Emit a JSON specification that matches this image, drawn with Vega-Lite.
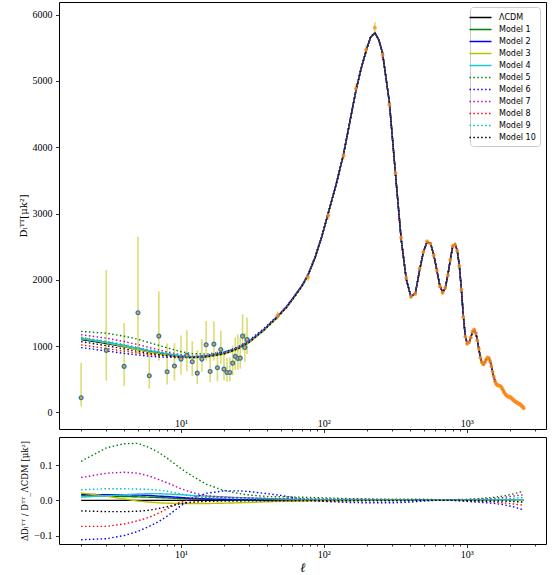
{
"$schema":"https://vega.github.io/schema/vega-lite/v6.json",
"padding":{"left":17,"top":1,"right":5,"bottom":2},
"spacing":2,
"config":{"view":{"stroke":"#000","strokeWidth":1},
"axis":{"grid":false,"domain":false,"tickColor":"#000","tickWidth":0.8,"labelColor":"#000","titleColor":"#000","labelFont":"Liberation Serif","labelFontSize":10,"titleFont":"DejaVu Serif","titleFontWeight":"normal"},
"legend":{"orient":"none","legendX":411,"legendY":5,"symbolType":"M-2,0H2","symbolSize":121,"symbolStrokeWidth":1.5,"labelFont":"DejaVu Sans","labelFontSize":8,"labelColor":"#000","labelOffset":12,"fillColor":"rgba(255,255,255,0.85)","strokeColor":"#cccccc","cornerRadius":3,"padding":4,"rowPadding":1.0}},
"datasets":{
"curves":[
{"l":2,"L":1100,"a":1114,"b":1119,"c":1123,"d":1110,"e":1222,"f":977,"g":1172,"h":1019,"i":1133,"j":1067},
{"l":3,"L":1040,"a":1052,"b":1057,"c":1052,"d":1054,"e":1195,"f":927,"g":1120,"h":963,"i":1074,"j":1007},
{"l":4,"L":990,"a":1001,"b":1006,"c":994,"d":1006,"e":1149,"f":891,"g":1069,"h":924,"i":1023,"j":958},
{"l":5,"L":950,"a":960,"b":964,"c":948,"d":967,"e":1104,"f":866,"g":1023,"h":895,"i":980,"j":921},
{"l":6,"L":915,"a":923,"b":928,"c":910,"d":932,"e":1052,"f":847,"g":978,"h":871,"i":943,"j":889},
{"l":7,"L":890,"a":897,"b":901,"c":884,"d":907,"e":1011,"f":837,"g":943,"h":858,"i":916,"j":870},
{"l":8,"L":870,"a":876,"b":880,"c":863,"d":886,"e":974,"f":831,"g":914,"h":849,"i":893,"j":854},
{"l":10,"L":840,"a":844,"b":847,"c":832,"d":853,"e":916,"f":827,"g":868,"h":837,"i":855,"j":832},
{"l":12,"L":830,"a":833,"b":835,"c":823,"d":842,"e":887,"f":835,"g":848,"h":833,"i":840,"j":826},
{"l":15,"L":840,"a":843,"b":843,"c":832,"d":850,"e":879,"f":857,"g":851,"h":847,"i":847,"j":837},
{"l":20,"L":885,"a":887,"b":888,"c":878,"d":894,"e":910,"f":909,"g":893,"h":892,"i":890,"j":883},
{"l":25,"L":960,"a":961,"b":962,"c":953,"d":968,"e":979,"f":986,"g":967,"h":967,"i":965,"j":958},
{"l":30,"L":1060,"a":1061,"b":1062,"c":1054,"d":1067,"e":1076,"f":1087,"g":1066,"h":1066,"i":1064,"j":1059},
{"l":38,"L":1240,"a":1241,"b":1241,"c":1235,"d":1246,"e":1254,"f":1265,"g":1246,"h":1246,"i":1245,"j":1239},
{"l":47.5,"L":1440,"a":1441,"b":1441,"c":1436,"d":1446,"e":1454,"f":1460,"g":1447,"h":1446,"i":1444,"j":1439},
{"l":55,"L":1590,"a":1591,"b":1591,"c":1586,"d":1596,"e":1604,"f":1607,"g":1598,"h":1596,"i":1595,"j":1588},
{"l":62,"L":1740,"a":1741,"b":1741,"c":1736,"d":1745,"e":1756,"f":1754,"g":1747,"h":1746,"i":1745,"j":1738},
{"l":70,"L":1900,"a":1900,"b":1902,"c":1896,"d":1906,"e":1917,"f":1908,"g":1908,"h":1906,"i":1906,"j":1898},
{"l":77.5,"L":2070,"a":2070,"b":2070,"c":2066,"d":2076,"e":2089,"f":2076,"g":2078,"h":2076,"i":2076,"j":2068},
{"l":87,"L":2340,"a":2340,"b":2340,"c":2337,"d":2345,"e":2358,"f":2338,"g":2349,"h":2345,"i":2347,"j":2338},
{"l":97,"L":2660,"a":2660,"b":2660,"c":2658,"d":2664,"e":2676,"f":2654,"g":2668,"h":2664,"i":2666,"j":2658},
{"l":107.5,"L":3010,"a":3010,"b":3010,"c":3010,"d":3010,"e":3010,"f":3010,"g":3010,"h":3010,"i":3010,"j":3010},
{"l":122,"L":3440,"a":3440,"b":3440,"c":3440,"d":3440,"e":3440,"f":3440,"g":3440,"h":3440,"i":3440,"j":3440},
{"l":137.5,"L":3900,"a":3900,"b":3900,"c":3900,"d":3900,"e":3900,"f":3900,"g":3900,"h":3900,"i":3900,"j":3900},
{"l":152,"L":4380,"a":4380,"b":4380,"c":4380,"d":4380,"e":4380,"f":4380,"g":4380,"h":4380,"i":4380,"j":4380},
{"l":167.5,"L":4850,"a":4850,"b":4850,"c":4850,"d":4850,"e":4850,"f":4850,"g":4850,"h":4850,"i":4850,"j":4850},
{"l":182,"L":5180,"a":5180,"b":5180,"c":5180,"d":5180,"e":5180,"f":5180,"g":5180,"h":5180,"i":5180,"j":5180},
{"l":197.5,"L":5450,"a":5450,"b":5450,"c":5450,"d":5450,"e":5450,"f":5450,"g":5450,"h":5450,"i":5450,"j":5450},
{"l":212.5,"L":5660,"a":5660,"b":5660,"c":5660,"d":5660,"e":5660,"f":5660,"g":5660,"h":5660,"i":5660,"j":5660},
{"l":227.5,"L":5725,"a":5725,"b":5725,"c":5725,"d":5725,"e":5725,"f":5725,"g":5725,"h":5725,"i":5725,"j":5725},
{"l":242.5,"L":5620,"a":5620,"b":5620,"c":5620,"d":5620,"e":5620,"f":5620,"g":5620,"h":5620,"i":5620,"j":5620},
{"l":257.5,"L":5420,"a":5420,"b":5420,"c":5420,"d":5420,"e":5420,"f":5420,"g":5420,"h":5420,"i":5420,"j":5420},
{"l":287.5,"L":4680,"a":4680,"b":4680,"c":4680,"d":4680,"e":4680,"f":4680,"g":4680,"h":4680,"i":4680,"j":4680},
{"l":317.5,"L":3590,"a":3590,"b":3590,"c":3590,"d":3590,"e":3590,"f":3590,"g":3590,"h":3590,"i":3590,"j":3590},
{"l":347.5,"L":2620,"a":2620,"b":2620,"c":2620,"d":2620,"e":2620,"f":2620,"g":2620,"h":2620,"i":2620,"j":2620},
{"l":377.5,"L":2010,"a":2010,"b":2010,"c":2010,"d":2010,"e":2010,"f":2010,"g":2010,"h":2010,"i":2010,"j":2010},
{"l":407.5,"L":1740,"a":1740,"b":1740,"c":1740,"d":1740,"e":1740,"f":1740,"g":1740,"h":1740,"i":1740,"j":1740},
{"l":437.5,"L":1800,"a":1800,"b":1800,"c":1800,"d":1800,"e":1800,"f":1800,"g":1800,"h":1800,"i":1800,"j":1800},
{"l":467.5,"L":2140,"a":2140,"b":2140,"c":2140,"d":2140,"e":2140,"f":2140,"g":2140,"h":2140,"i":2140,"j":2140},
{"l":497.5,"L":2420,"a":2420,"b":2420,"c":2420,"d":2420,"e":2420,"f":2420,"g":2420,"h":2420,"i":2420,"j":2420},
{"l":527.5,"L":2570,"a":2570,"b":2570,"c":2570,"d":2570,"e":2570,"f":2570,"g":2570,"h":2570,"i":2570,"j":2570},
{"l":557.5,"L":2555,"a":2555,"b":2555,"c":2555,"d":2555,"e":2555,"f":2555,"g":2555,"h":2555,"i":2555,"j":2555},
{"l":587.5,"L":2380,"a":2380,"b":2380,"c":2380,"d":2380,"e":2380,"f":2380,"g":2380,"h":2380,"i":2380,"j":2380},
{"l":617.5,"L":2150,"a":2150,"b":2150,"c":2150,"d":2150,"e":2150,"f":2150,"g":2150,"h":2150,"i":2150,"j":2150},
{"l":647.5,"L":1920,"a":1920,"b":1920,"c":1920,"d":1920,"e":1920,"f":1920,"g":1920,"h":1920,"i":1920,"j":1920},
{"l":677.5,"L":1810,"a":1810,"b":1810,"c":1810,"d":1810,"e":1810,"f":1810,"g":1810,"h":1810,"i":1810,"j":1810},
{"l":707.5,"L":1870,"a":1870,"b":1870,"c":1870,"d":1870,"e":1870,"f":1870,"g":1870,"h":1870,"i":1870,"j":1870},
{"l":737.5,"L":2070,"a":2070,"b":2070,"c":2070,"d":2070,"e":2070,"f":2070,"g":2070,"h":2070,"i":2070,"j":2070},
{"l":767.5,"L":2300,"a":2300,"b":2300,"c":2300,"d":2300,"e":2300,"f":2300,"g":2300,"h":2300,"i":2300,"j":2300},
{"l":797.5,"L":2500,"a":2500,"b":2500,"c":2500,"d":2500,"e":2500,"f":2500,"g":2500,"h":2500,"i":2500,"j":2500},
{"l":827.5,"L":2540,"a":2540,"b":2540,"c":2540,"d":2540,"e":2540,"f":2540,"g":2540,"h":2540,"i":2540,"j":2540},
{"l":857.5,"L":2450,"a":2450,"b":2450,"c":2450,"d":2450,"e":2450,"f":2450,"g":2450,"h":2450,"i":2450,"j":2450},
{"l":887.5,"L":2220,"a":2220,"b":2220,"c":2220,"d":2220,"e":2220,"f":2220,"g":2220,"h":2220,"i":2220,"j":2220},
{"l":917.5,"L":1860,"a":1860,"b":1860,"c":1860,"d":1860,"e":1860,"f":1860,"g":1860,"h":1860,"i":1860,"j":1860},
{"l":947.5,"L":1450,"a":1450,"b":1450,"c":1450,"d":1450,"e":1450,"f":1450,"g":1450,"h":1450,"i":1450,"j":1450},
{"l":977.5,"L":1150,"a":1150,"b":1150,"c":1150,"d":1150,"e":1150,"f":1150,"g":1150,"h":1150,"i":1150,"j":1150},
{"l":1007.5,"L":1040,"a":1040,"b":1040,"c":1040,"d":1040,"e":1040,"f":1040,"g":1040,"h":1040,"i":1040,"j":1040},
{"l":1037.5,"L":1050,"a":1050,"b":1050,"c":1050,"d":1050,"e":1050,"f":1050,"g":1050,"h":1050,"i":1050,"j":1050},
{"l":1067.5,"L":1130,"a":1130,"b":1130,"c":1130,"d":1130,"e":1130,"f":1130,"g":1130,"h":1130,"i":1130,"j":1130},
{"l":1097.5,"L":1210,"a":1210,"b":1210,"c":1210,"d":1210,"e":1210,"f":1210,"g":1210,"h":1210,"i":1210,"j":1210},
{"l":1127.5,"L":1245,"a":1245,"b":1245,"c":1245,"d":1245,"e":1245,"f":1245,"g":1245,"h":1245,"i":1245,"j":1245},
{"l":1157.5,"L":1200,"a":1200,"b":1200,"c":1200,"d":1200,"e":1200,"f":1200,"g":1200,"h":1200,"i":1200,"j":1200},
{"l":1187.5,"L":1090,"a":1090,"b":1090,"c":1090,"d":1090,"e":1090,"f":1090,"g":1090,"h":1090,"i":1090,"j":1090},
{"l":1217.5,"L":950,"a":950,"b":950,"c":950,"d":950,"e":950,"f":950,"g":950,"h":950,"i":950,"j":950},
{"l":1247.5,"L":830,"a":830,"b":830,"c":830,"d":830,"e":830,"f":830,"g":830,"h":830,"i":830,"j":830},
{"l":1277.5,"L":750,"a":750,"b":750,"c":750,"d":750,"e":750,"f":750,"g":750,"h":750,"i":750,"j":750},
{"l":1307.5,"L":725,"a":725,"b":725,"c":725,"d":725,"e":725,"f":725,"g":725,"h":725,"i":725,"j":725},
{"l":1337.5,"L":750,"a":750,"b":750,"c":750,"d":750,"e":750,"f":750,"g":750,"h":750,"i":750,"j":750},
{"l":1367.5,"L":795,"a":795,"b":795,"c":795,"d":795,"e":795,"f":795,"g":795,"h":795,"i":795,"j":795},
{"l":1397.5,"L":825,"a":825,"b":825,"c":825,"d":825,"e":825,"f":825,"g":825,"h":825,"i":825,"j":825},
{"l":1427.5,"L":820,"a":820,"b":820,"c":820,"d":820,"e":820,"f":820,"g":820,"h":820,"i":820,"j":820},
{"l":1457.5,"L":775,"a":775,"b":775,"c":775,"d":775,"e":775,"f":775,"g":775,"h":775,"i":775,"j":775},
{"l":1487.5,"L":700,"a":700,"b":700,"c":700,"d":700,"e":700,"f":700,"g":700,"h":700,"i":700,"j":700},
{"l":1547.5,"L":535,"a":535,"b":535,"c":535,"d":535,"e":535,"f":535,"g":535,"h":535,"i":535,"j":535},
{"l":1607.5,"L":430,"a":430,"b":430,"c":430,"d":430,"e":430,"f":430,"g":430,"h":430,"i":430,"j":430},
{"l":1667.5,"L":405,"a":405,"b":405,"c":405,"d":405,"e":405,"f":405,"g":405,"h":405,"i":405,"j":405},
{"l":1727.5,"L":395,"a":395,"b":395,"c":395,"d":395,"e":395,"f":395,"g":395,"h":395,"i":395,"j":395},
{"l":1787.5,"L":345,"a":345,"b":345,"c":345,"d":345,"e":345,"f":345,"g":345,"h":345,"i":345,"j":345},
{"l":1847.5,"L":290,"a":290,"b":290,"c":290,"d":290,"e":290,"f":290,"g":290,"h":290,"i":290,"j":290},
{"l":1907.5,"L":252,"a":252,"b":252,"c":252,"d":252,"e":252,"f":252,"g":252,"h":252,"i":252,"j":252},
{"l":1967.5,"L":238,"a":238,"b":238,"c":238,"d":238,"e":238,"f":238,"g":238,"h":238,"i":238,"j":238},
{"l":2027.5,"L":226,"a":226,"b":226,"c":226,"d":226,"e":226,"f":226,"g":226,"h":226,"i":226,"j":226},
{"l":2087.5,"L":202,"a":202,"b":202,"c":202,"d":202,"e":202,"f":202,"g":202,"h":202,"i":202,"j":202},
{"l":2147.5,"L":178,"a":178,"b":178,"c":178,"d":178,"e":178,"f":178,"g":178,"h":178,"i":178,"j":178},
{"l":2207.5,"L":160,"a":160,"b":160,"c":160,"d":160,"e":160,"f":160,"g":160,"h":160,"i":160,"j":160},
{"l":2267.5,"L":146,"a":146,"b":146,"c":146,"d":146,"e":146,"f":146,"g":146,"h":146,"i":146,"j":146},
{"l":2327.5,"L":130,"a":130,"b":130,"c":130,"d":130,"e":130,"f":130,"g":130,"h":130,"i":130,"j":130},
{"l":2387.5,"L":114,"a":114,"b":114,"c":114,"d":114,"e":114,"f":114,"g":114,"h":114,"i":114,"j":114},
{"l":2447.5,"L":92,"a":92,"b":92,"c":92,"d":92,"e":92,"f":92,"g":92,"h":92,"i":92,"j":92},
{"l":2507.5,"L":62,"a":62,"b":62,"c":62,"d":62,"e":62,"f":62,"g":62,"h":62,"i":62,"j":62}
],
"resid":[
{"l":2,"L":0,"a":0.013,"b":0.017,"c":0.021,"d":0.009,"e":0.111,"f":-0.112,"g":0.065,"h":-0.074,"i":0.030,"j":-0.030},
{"l":3,"L":0,"a":0.012,"b":0.016,"c":0.012,"d":0.013,"e":0.149,"f":-0.109,"g":0.077,"h":-0.074,"i":0.033,"j":-0.032},
{"l":4,"L":0,"a":0.011,"b":0.016,"c":0.004,"d":0.016,"e":0.161,"f":-0.100,"g":0.080,"h":-0.067,"i":0.033,"j":-0.032},
{"l":5,"L":0,"a":0.010,"b":0.015,"c":-0.002,"d":0.018,"e":0.162,"f":-0.088,"g":0.077,"h":-0.058,"i":0.032,"j":-0.031},
{"l":6,"L":0,"a":0.009,"b":0.014,"c":-0.005,"d":0.019,"e":0.150,"f":-0.074,"g":0.069,"h":-0.048,"i":0.031,"j":-0.028},
{"l":7,"L":0,"a":0.008,"b":0.012,"c":-0.007,"d":0.019,"e":0.136,"f":-0.060,"g":0.059,"h":-0.036,"i":0.029,"j":-0.023},
{"l":8,"L":0,"a":0.007,"b":0.011,"c":-0.008,"d":0.018,"e":0.120,"f":-0.045,"g":0.050,"h":-0.024,"i":0.026,"j":-0.018},
{"l":10,"L":0,"a":0.005,"b":0.008,"c":-0.009,"d":0.016,"e":0.090,"f":-0.015,"g":0.033,"h":-0.004,"i":0.018,"j":-0.009},
{"l":12,"L":0,"a":0.004,"b":0.006,"c":-0.009,"d":0.014,"e":0.069,"f":0.006,"g":0.022,"h":0.004,"i":0.012,"j":-0.005},
{"l":15,"L":0,"a":0.003,"b":0.004,"c":-0.009,"d":0.012,"e":0.046,"f":0.020,"g":0.013,"h":0.008,"i":0.008,"j":-0.003},
{"l":20,"L":0,"a":0.002,"b":0.003,"c":-0.008,"d":0.010,"e":0.028,"f":0.027,"g":0.009,"h":0.008,"i":0.006,"j":-0.002},
{"l":25,"L":0,"a":0.001,"b":0.002,"c":-0.007,"d":0.008,"e":0.020,"f":0.027,"g":0.007,"h":0.007,"i":0.005,"j":-0.002},
{"l":30,"L":0,"a":0.001,"b":0.002,"c":-0.006,"d":0.007,"e":0.015,"f":0.025,"g":0.006,"h":0.006,"i":0.004,"j":-0.001},
{"l":40,"L":0,"a":0.001,"b":0.001,"c":-0.004,"d":0.005,"e":0.011,"f":0.019,"g":0.005,"h":0.005,"i":0.004,"j":-0.001},
{"l":50,"L":0,"a":0.001,"b":0.001,"c":-0.003,"d":0.004,"e":0.010,"f":0.014,"g":0.005,"h":0.004,"i":0.003,"j":-0.001},
{"l":70,"L":0,"a":0,"b":0.001,"c":-0.002,"d":0.003,"e":0.009,"f":0.004,"g":0.004,"h":0.003,"i":0.003,"j":-0.001},
{"l":100,"L":0,"a":0,"b":0,"c":-0.001,"d":0.002,"e":0.007,"f":-0.003,"g":0.004,"h":0.002,"i":0.003,"j":-0.001},
{"l":150,"L":0,"a":0,"b":0,"c":-0.001,"d":0.001,"e":0.005,"f":-0.006,"g":0.003,"h":0.001,"i":0.002,"j":-0.001},
{"l":200,"L":0,"a":0,"b":0,"c":0,"d":0.001,"e":0.004,"f":-0.007,"g":0.003,"h":0.001,"i":0.002,"j":-0.001},
{"l":300,"L":0,"a":0,"b":0,"c":0,"d":0.001,"e":0.003,"f":-0.007,"g":0.002,"h":0.001,"i":0.002,"j":-0.001},
{"l":400,"L":0,"a":0,"b":0,"c":0,"d":0,"e":0.003,"f":-0.005,"g":0.002,"h":0.001,"i":0.002,"j":-0.001},
{"l":500,"L":0,"a":0,"b":0,"c":0,"d":0,"e":0.003,"f":-0.002,"g":0.002,"h":0.001,"i":0.002,"j":0},
{"l":600,"L":0,"a":0,"b":0,"c":0,"d":0,"e":0.002,"f":0,"g":0.001,"h":0.001,"i":0.002,"j":0},
{"l":700,"L":0,"a":0,"b":0,"c":0,"d":0,"e":0,"f":0.002,"g":0,"h":0.001,"i":0.002,"j":0},
{"l":800,"L":0,"a":0,"b":0,"c":0,"d":0,"e":0.002,"f":0,"g":0.002,"h":0.001,"i":0.002,"j":0},
{"l":1000,"L":0,"a":0,"b":0,"c":0,"d":0,"e":0.003,"f":-0.003,"g":0.002,"h":0,"i":0.002,"j":-0.001},
{"l":1200,"L":0,"a":0,"b":0,"c":0,"d":0,"e":0.005,"f":-0.005,"g":0.003,"h":-0.002,"i":0.002,"j":-0.001},
{"l":1500,"L":0,"a":0,"b":0,"c":0,"d":0.001,"e":0.008,"f":-0.008,"g":0.005,"h":-0.004,"i":0.003,"j":-0.002},
{"l":1800,"L":0,"a":0,"b":0,"c":0,"d":0.001,"e":0.012,"f":-0.012,"g":0.008,"h":-0.007,"i":0.004,"j":-0.002},
{"l":2100,"L":0,"a":0,"b":0,"c":0,"d":0.001,"e":0.018,"f":-0.018,"g":0.012,"h":-0.010,"i":0.006,"j":-0.003},
{"l":2500,"L":0,"a":0,"b":0,"c":0,"d":0.002,"e":0.026,"f":-0.027,"g":0.016,"h":-0.014,"i":0.008,"j":-0.005}
],
"low":[
{"l":2,"D":222,"lo":90,"hi":750},{"l":3,"D":935,"lo":480,"hi":2150},{"l":4,"D":694,"lo":400,"hi":1350},{"l":5,"D":1504,"lo":880,"hi":2650},
{"l":6,"D":553,"lo":360,"hi":910},{"l":7,"D":1151,"lo":784,"hi":1825},{"l":8,"D":613,"lo":420,"hi":1040},{"l":9,"D":699,"lo":480,"hi":1045},
{"l":10,"D":804,"lo":570,"hi":1160},{"l":11,"D":860,"lo":620,"hi":1240},{"l":12,"D":765,"lo":550,"hi":1075},{"l":13,"D":593,"lo":430,"hi":940},
{"l":14,"D":804,"lo":610,"hi":1105},{"l":15,"D":1021,"lo":785,"hi":1380},{"l":16,"D":618,"lo":460,"hi":865},{"l":17,"D":1030,"lo":785,"hi":1375},
{"l":18,"D":674,"lo":470,"hi":930},{"l":19,"D":950,"lo":730,"hi":1235},{"l":20,"D":653,"lo":480,"hi":880},{"l":21,"D":603,"lo":465,"hi":830},
{"l":22,"D":603,"lo":470,"hi":830},{"l":23,"D":744,"lo":560,"hi":1005},{"l":24,"D":845,"lo":640,"hi":1130},{"l":25,"D":814,"lo":645,"hi":1180},
{"l":26,"D":819,"lo":660,"hi":1130},{"l":27,"D":1151,"lo":930,"hi":1480},{"l":28,"D":980,"lo":760,"hi":1200},{"l":29,"D":1100,"lo":880,"hi":1430}
],
"high":[
{"l":47.5,"D":1463,"lo":1403,"hi":1523},{"l":77.5,"D":2041,"lo":1981,"hi":2101},{"l":107.5,"D":2971,"lo":2906,"hi":3036},{"l":137.5,"D":3876,"lo":3806,"hi":3946},
{"l":167.5,"D":4880,"lo":4805,"hi":4955},{"l":197.5,"D":5470,"lo":5390,"hi":5550},{"l":227.5,"D":5802,"lo":5717,"hi":5887},{"l":257.5,"D":5390,"lo":5315,"hi":5465},
{"l":287.5,"D":4640,"lo":4575,"hi":4705},{"l":317.5,"D":3610,"lo":3555,"hi":3665},{"l":347.5,"D":2635,"lo":2590,"hi":2680},{"l":377.5,"D":2032,"lo":1997,"hi":2067},
{"l":407.5,"D":1750,"lo":1720,"hi":1780},{"l":437.5,"D":1790,"lo":1760,"hi":1820},{"l":467.5,"D":2167,"lo":2137,"hi":2197},{"l":497.5,"D":2418,"lo":2388,"hi":2448},
{"l":527.5,"D":2579,"lo":2549,"hi":2609},{"l":557.5,"D":2544,"lo":2514,"hi":2574},{"l":587.5,"D":2368,"lo":2338,"hi":2398},{"l":617.5,"D":2140,"lo":2112,"hi":2168},
{"l":647.5,"D":1900,"lo":1875,"hi":1925},{"l":677.5,"D":1805,"lo":1780,"hi":1830},{"l":707.5,"D":1880,"lo":1855,"hi":1905},{"l":737.5,"D":2070,"lo":2045,"hi":2095},
{"l":767.5,"D":2300,"lo":2275,"hi":2325},{"l":797.5,"D":2510,"lo":2485,"hi":2535},{"l":827.5,"D":2530,"lo":2505,"hi":2555},{"l":857.5,"D":2440,"lo":2415,"hi":2465},
{"l":887.5,"D":2210,"lo":2188,"hi":2232},{"l":917.5,"D":1850,"lo":1830,"hi":1870},{"l":947.5,"D":1440,"lo":1420,"hi":1460},{"l":977.5,"D":1140,"lo":1122,"hi":1158},
{"l":1007.5,"D":1035,"lo":1017,"hi":1053},{"l":1037.5,"D":1060,"lo":1042,"hi":1078},{"l":1067.5,"D":1125,"lo":1107,"hi":1143},{"l":1097.5,"D":1215,"lo":1197,"hi":1233},
{"l":1127.5,"D":1250,"lo":1232,"hi":1268},{"l":1157.5,"D":1195,"lo":1177,"hi":1213},{"l":1187.5,"D":1085,"lo":1069,"hi":1101},{"l":1217.5,"D":955,"lo":939,"hi":971},
{"l":1247.5,"D":825,"lo":809,"hi":841},{"l":1277.5,"D":755,"lo":739,"hi":771},{"l":1307.5,"D":722,"lo":707,"hi":737},{"l":1337.5,"D":752,"lo":737,"hi":767},
{"l":1367.5,"D":798,"lo":783,"hi":813},{"l":1397.5,"D":828,"lo":813,"hi":843},{"l":1427.5,"D":817,"lo":802,"hi":832},{"l":1457.5,"D":772,"lo":758,"hi":786},
{"l":1487.5,"D":702,"lo":688,"hi":716},{"l":1517.5,"D":612,"lo":598,"hi":626},{"l":1547.5,"D":538,"lo":524,"hi":552},{"l":1577.5,"D":468,"lo":454,"hi":482},
{"l":1607.5,"D":432,"lo":418,"hi":446},{"l":1637.5,"D":408,"lo":394,"hi":422},{"l":1667.5,"D":407,"lo":393,"hi":421},{"l":1697.5,"D":402,"lo":388,"hi":416},
{"l":1727.5,"D":396,"lo":382,"hi":410},{"l":1757.5,"D":372,"lo":358,"hi":386},{"l":1787.5,"D":347,"lo":333,"hi":361},{"l":1817.5,"D":313,"lo":299,"hi":327},
{"l":1847.5,"D":291,"lo":277,"hi":305},{"l":1877.5,"D":266,"lo":252,"hi":280},{"l":1907.5,"D":254,"lo":240,"hi":268},{"l":1937.5,"D":241,"lo":227,"hi":255},
{"l":1967.5,"D":239,"lo":225,"hi":253},{"l":1997.5,"D":231,"lo":217,"hi":245},{"l":2027.5,"D":228,"lo":214,"hi":242},{"l":2057.5,"D":213,"lo":199,"hi":227},
{"l":2087.5,"D":204,"lo":190,"hi":218},{"l":2117.5,"D":188,"lo":174,"hi":202},{"l":2147.5,"D":180,"lo":166,"hi":194},{"l":2177.5,"D":166,"lo":151,"hi":181},
{"l":2207.5,"D":162,"lo":147,"hi":177},{"l":2237.5,"D":151,"lo":136,"hi":166},{"l":2267.5,"D":147,"lo":132,"hi":162},{"l":2297.5,"D":136,"lo":121,"hi":151},
{"l":2327.5,"D":132,"lo":117,"hi":147},{"l":2357.5,"D":120,"lo":104,"hi":136},{"l":2387.5,"D":116,"lo":100,"hi":132},{"l":2417.5,"D":102,"lo":86,"hi":118},
{"l":2447.5,"D":94,"lo":78,"hi":110},{"l":2477.5,"D":77,"lo":60,"hi":94},{"l":2507.5,"D":62,"lo":45,"hi":79}
]
},
"vconcat":[
{"width":487,"height":427,
"encoding":{"x":{"field":"l","type":"quantitative","scale":{"type":"log","domain":[1.4,3590],"nice":false},
"axis":{"title":null,"values":[2,3,4,5,6,7,8,9,10,20,30,40,50,60,70,80,90,100,200,300,400,500,600,700,800,900,1000,2000,3000],
"labelExpr":"datum.value==10?'10¹':datum.value==100?'10²':datum.value==1000?'10³':''",
"tickSize":{"condition":{"test":"datum.value==10||datum.value==100||datum.value==1000","value":3.5},"value":2},
"labelPadding":-14,"labelOverlap":false,"labelFlush":false}}},
"layer":[
{"data":{"name":"low"},"mark":{"type":"rule","color":"#bfbf00","opacity":0.55,"strokeWidth":1.6},
"encoding":{"y":{"field":"lo","type":"quantitative","title":"Dₗᵀᵀ[μk²]","scale":{"domain":[-250,6190],"nice":false,"zero":false},
"axis":{"values":[0,1000,2000,3000,4000,5000,6000],"format":"d","tickSize":3.5,"labelPadding":3.5,"titlePadding":4,"titleFontSize":10}},"y2":{"field":"hi"}}},
{"data":{"name":"high"},"mark":{"type":"rule","color":"#bfbf00","opacity":0.55,"strokeWidth":1.6},
"encoding":{"y":{"field":"lo","type":"quantitative","title":"Dₗᵀᵀ[μk²]"},"y2":{"field":"hi"}}},
{"data":{"name":"curves"},"transform":[{"fold":["L","a","b","c","d","e","f","g","h","i","j"],"as":["m","v"]}],
"mark":{"type":"line","strokeWidth":1.4},
"encoding":{"y":{"field":"v","type":"quantitative","title":"Dₗᵀᵀ[μk²]"},
"color":{"field":"m","type":"nominal","scale":{"domain":["L","a","b","c","d","e","f","g","h","i","j"],"range":["#000000","#008000","#0000ff","#bfbf00","#20c9c9","#008000","#0000ff","#bf00bf","#ff0000","#00bfbf","#000000"]},
"legend":{"title":null,"labelExpr":"datum.value=='L'?'ΛCDM':'Model '+(indexof('abcdefghij',datum.value)+1)"}},
"strokeDash":{"field":"m","type":"nominal","scale":{"domain":["L","a","b","c","d","e","f","g","h","i","j"],"range":[[1,0],[1,0],[1,0],[1,0],[1,0],[1.5,2.4],[1.5,2.4],[1.5,2.4],[1.5,2.4],[1.5,2.4],[1.5,2.4]]},
"legend":{"title":null,"labelExpr":"datum.value=='L'?'ΛCDM':'Model '+(indexof('abcdefghij',datum.value)+1)"}}}},
{"data":{"name":"low"},"mark":{"type":"point","shape":"circle","filled":false,"fill":"#ff9a2e","stroke":"#1f77b4","strokeWidth":1.2,"size":15,"opacity":1},
"encoding":{"y":{"field":"D","type":"quantitative","title":"Dₗᵀᵀ[μk²]"}}},
{"data":{"name":"high"},"mark":{"type":"circle","color":"#ff8c1a","opacity":0.8,"size":16},
"encoding":{"y":{"field":"D","type":"quantitative","title":"Dₗᵀᵀ[μk²]"}}}
]},
{"width":487,"height":107,
"data":{"name":"resid"},
"transform":[{"fold":["L","a","b","c","d","e","f","g","h","i","j"],"as":["m","r"]}],
"mark":{"type":"line","strokeWidth":1.4},
"encoding":{"x":{"field":"l","type":"quantitative","scale":{"type":"log","domain":[1.4,3590],"nice":false},
"axis":{"title":"ℓ","titleFont":"DejaVu Serif","titleFontSize":13,"titleFontStyle":"italic","titlePadding":2,
"values":[2,3,4,5,6,7,8,9,10,20,30,40,50,60,70,80,90,100,200,300,400,500,600,700,800,900,1000,2000,3000],
"labelExpr":"datum.value==10?'10¹':datum.value==100?'10²':datum.value==1000?'10³':''",
"tickSize":{"condition":{"test":"datum.value==10||datum.value==100||datum.value==1000","value":3.5},"value":2},
"labelPadding":2,"labelOverlap":false,"labelFlush":false}},
"y":{"field":"r","type":"quantitative","scale":{"domain":[-0.124,0.18],"nice":false,"zero":false},
"axis":{"title":"ΔDₗᵀᵀ / Dᵀᵀ_ΛCDM [μk²]","titleFontSize":8.5,"values":[-0.1,0,0.1],"tickSize":3.5,"labelPadding":3.5,"titlePadding":4,
"labelExpr":"datum.value<0?'−'+format(-datum.value,'.1f'):format(datum.value,'.1f')"}},
"color":{"field":"m","type":"nominal","scale":{"domain":["L","a","b","c","d","e","f","g","h","i","j"],"range":["#000000","#008000","#0000ff","#bfbf00","#20c9c9","#008000","#0000ff","#bf00bf","#ff0000","#00bfbf","#000000"]},"legend":null},
"strokeDash":{"field":"m","type":"nominal","scale":{"domain":["L","a","b","c","d","e","f","g","h","i","j"],"range":[[1,0],[1,0],[1,0],[1,0],[1,0],[1.5,2.4],[1.5,2.4],[1.5,2.4],[1.5,2.4],[1.5,2.4],[1.5,2.4]]},"legend":null}}}
],
"resolve":{"scale":{"color":"independent","strokeDash":"independent"}}
}
